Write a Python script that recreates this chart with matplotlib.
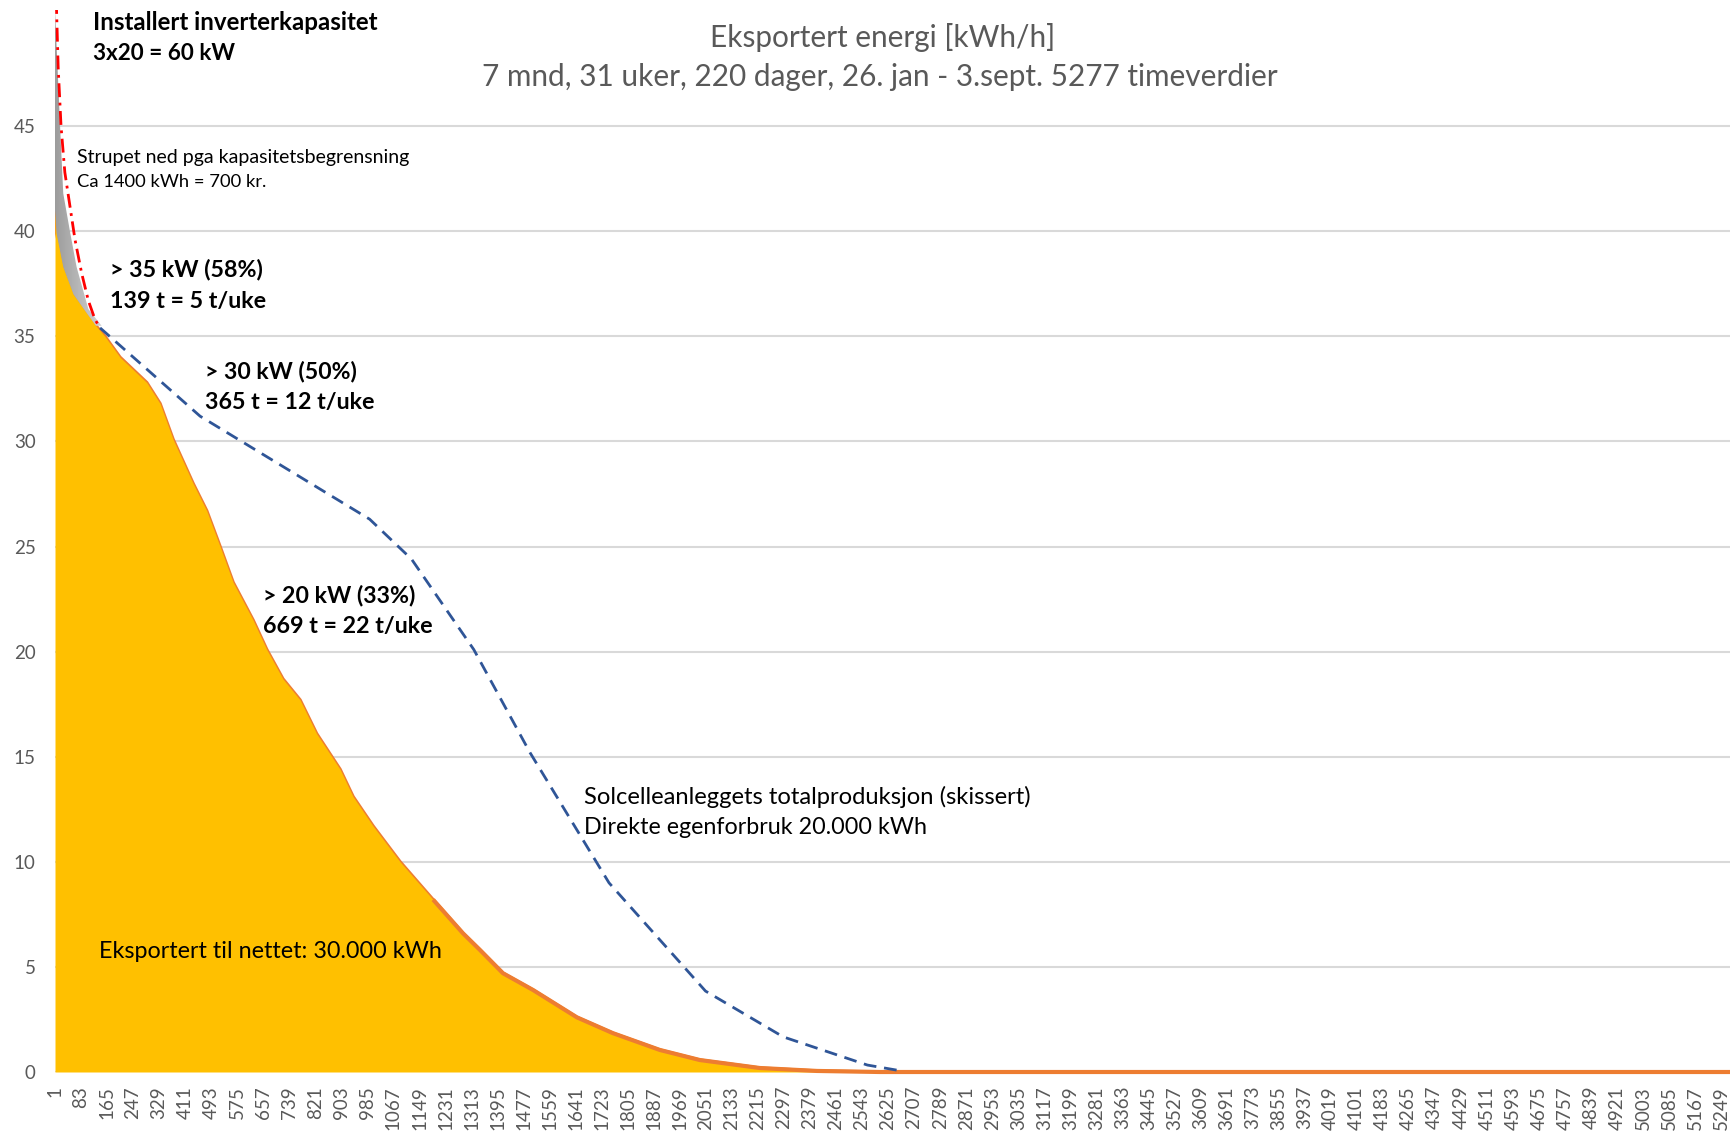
import numpy as np
import matplotlib
matplotlib.use("Agg")
import matplotlib.pyplot as plt
from matplotlib.patches import Polygon
from matplotlib.colors import LinearSegmentedColormap

plt.rcParams['font.family'] = ['Lato', 'DejaVu Sans']

# ---------------- data ----------------
hours_export = [1, 6, 27, 59, 101, 130, 158, 206, 290, 332, 373, 436, 479, 521,
                562, 625, 668, 719, 773, 825, 899, 940, 1003, 1088, 1192, 1286,
                1340, 1412, 1507, 1645, 1758, 1906, 2032, 2221, 2401, 2600, 5277]
export_kwh = [41.0, 39.9, 38.3, 37.0, 36.1, 35.5, 35.0, 34.0, 32.8, 31.8, 30.1,
              28.0, 26.7, 25.0, 23.3, 21.5, 20.1, 18.7, 17.7, 16.1, 14.4, 13.1,
              11.7, 10.0, 8.2, 6.6, 5.8, 4.7, 3.9, 2.6, 1.85, 1.05, 0.57, 0.19,
              0.05, 0.0, 0.0]

hours_throttled = [1, 9, 17, 27, 48, 69, 106, 148]
throttled_top = [50.5, 47.8, 45.0, 41.8, 40.0, 38.3, 36.3, 35.5]

hours_capacity = [5, 11, 20, 32, 48, 64, 85, 106, 127, 143]
capacity_curve = [51.0, 47.8, 45.0, 42.8, 41.2, 39.6, 38.0, 36.7, 35.8, 35.4]

hours_total = [143, 458, 992, 1124, 1320, 1497, 1746, 2050, 2295, 2560, 2656]
total_prod = [35.4, 31.2, 26.3, 24.4, 20.1, 15.2, 9.0, 3.85, 1.67, 0.33, 0.08]

tick_hours = list(range(1, 5250, 82))
y_ticks = [0, 5, 10, 15, 20, 25, 30, 35, 40, 45]

title_lines = ["Eksportert energi [kWh/h]",
               "7 mnd, 31 uker, 220 dager, 26. jan - 3.sept. 5277 timeverdier"]

# ---------------- figure ----------------
W, H = 1730, 1131
fig = plt.figure(figsize=(W / 100, H / 100), dpi=100)
fig.patch.set_facecolor('white')
y0_px, ytop_px = 1072, 10.5
ax = fig.add_axes([55 / W, (H - y0_px) / H, (W - 55) / W, (y0_px - ytop_px) / H])

gray_txt = '#595959'

# exported energy area
ax.plot(hours_export, export_kwh, color='#ED7D31', lw=2.4, zorder=2, solid_joinstyle='round')
ax.fill_between(hours_export, export_kwh, 0, color='#FFC000', lw=0, zorder=3)
tail = hours_export.index(1192)
ax.plot(hours_export[tail:], export_kwh[tail:], color='#ED7D31', lw=3.0, zorder=4,
        clip_on=False, solid_capstyle='butt', solid_joinstyle='round')

# throttled (grey gradient) area
n_head = sum(1 for h in hours_export if h <= hours_throttled[-1])
poly_x = hours_throttled + hours_export[:n_head][::-1]
poly_y = throttled_top + export_kwh[:n_head][::-1]
poly = Polygon(np.column_stack([poly_x, poly_y]), closed=True, facecolor='none',
               edgecolor='none', zorder=3)
ax.add_patch(poly)
cmap = LinearSegmentedColormap.from_list('g', ['#9C9C9C', '#D2D2D2'])
im = ax.imshow(np.linspace(0, 1, 256).reshape(1, -1), cmap=cmap, aspect='auto',
               extent=[min(poly_x), max(poly_x), min(poly_y), max(poly_y)],
               zorder=3, interpolation='bilinear')
im.set_clip_path(poly)

# capacity curve (red dash-dot)
ax.plot(hours_capacity, capacity_curve, color='#FF0000', lw=2.0, zorder=5,
        dashes=(5, 2, 1, 2))
# total production (blue dashed)
ax.plot(hours_total, total_prod, color='#2F5597', lw=2.0, zorder=5, dashes=(4.6, 2.8))

# axes styling
ax.set_xlim(1, 5277)
ax.set_ylim(0, 50.5)
ax.set_yticks(y_ticks)
ax.set_yticklabels([str(v) for v in y_ticks])
ax.set_xticks(tick_hours)
ax.set_xticklabels([str(v) for v in tick_hours], rotation=90)
for s in ax.spines.values():
    s.set_visible(False)
ax.tick_params(axis='both', length=0, colors=gray_txt, labelsize=13.5)
ax.tick_params(axis='y', pad=14)
ax.tick_params(axis='x', pad=10)
ax.yaxis.grid(True, color='#D9D9D9', lw=1.5)
ax.set_axisbelow(True)

# ---------------- texts ----------------
renderer = fig.canvas.get_renderer()


def put(s, x_px, y_px, width_px, weight='normal', ha='left', color='black'):
    t = fig.text(x_px / W, 1 - y_px / H, s, ha=ha, va='center', fontsize=20,
                 fontweight=weight, color=color, zorder=10)
    w = t.get_window_extent(renderer).width
    t.set_fontsize(20 * width_px / w)
    return t


put(title_lines[0], 883, 37.5, 346, ha='center', color=gray_txt)
put(title_lines[1], 880, 77, 795, ha='center', color=gray_txt)

put("Installert inverterkapasitet", 93, 23, 286, weight='bold')
put("3x20 = 60 kW", 93, 54, 142, weight='bold')
put("Strupet ned pga kapasitetsbegrensning", 77, 157, 334)
put("Ca 1400 kWh = 700 kr.", 77, 182, 190)
put("> 35 kW (58%)", 110, 270, 153, weight='bold')
put("139 t = 5 t/uke", 110, 302, 156, weight='bold')
put("> 30 kW (50%)", 205, 372, 152, weight='bold')
put("365 t = 12 t/uke", 205, 403, 169, weight='bold')
put("> 20 kW (33%)", 263, 596, 152, weight='bold')
put("669 t = 22 t/uke", 263, 627, 169, weight='bold')
put("Solcelleanleggets totalproduksjon (skissert)", 584, 797, 449)
put("Direkte egenforbruk 20.000 kWh", 584, 827, 343)
put("Eksportert til nettet: 30.000 kWh", 99, 951, 343)

fig.savefig('out.png', dpi=100, facecolor='white')
